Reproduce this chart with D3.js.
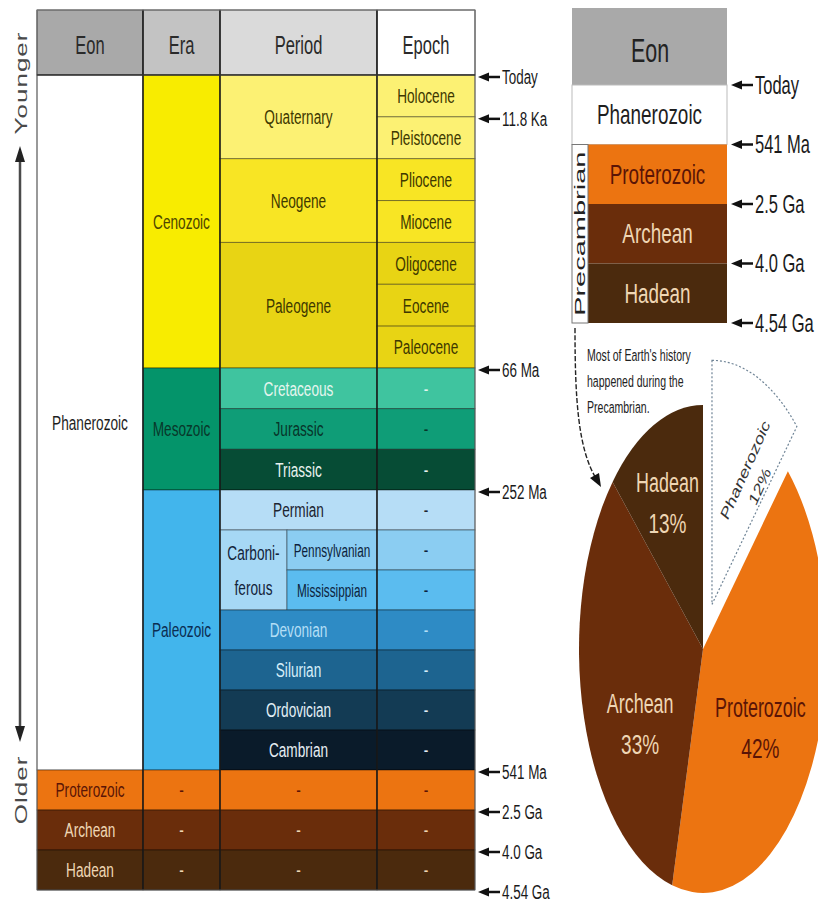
<!DOCTYPE html>
<html><head><meta charset="utf-8">
<script src="https://cdn.jsdelivr.net/npm/d3@7"></script>
<style>body{margin:0;background:#fff;} svg{display:block;font-family:"Liberation Sans",Arial,sans-serif;}</style>
</head><body><svg id="c" width="818" height="905"></svg>
<script>
// ---------------- DATA ----------------
const headers = ["Eon", "Era", "Period", "Epoch"];
const eons = [
  {name: "Phanerozoic", from: 0, to: 17},
  {name: "Proterozoic", from: 17, to: 18},
  {name: "Archean", from: 18, to: 19},
  {name: "Hadean", from: 19, to: 20}
];
const eras = [
  {name: "Cenozoic", from: 0, to: 7},
  {name: "Mesozoic", from: 7, to: 10},
  {name: "Paleozoic", from: 10, to: 17},
  {name: "-", from: 17, to: 18, key: "Proterozoic"},
  {name: "-", from: 18, to: 19, key: "Archean"},
  {name: "-", from: 19, to: 20, key: "Hadean"}
];
const periods = [
  {name: "Quaternary", from: 0, to: 2},
  {name: "Neogene", from: 2, to: 4},
  {name: "Paleogene", from: 4, to: 7},
  {name: "Cretaceous", from: 7, to: 8},
  {name: "Jurassic", from: 8, to: 9},
  {name: "Triassic", from: 9, to: 10},
  {name: "Permian", from: 10, to: 11},
  {name: "Carboniferous", lines: ["Carboni-", "ferous"], from: 11, to: 13, group: true},
  {name: "Pennsylvanian", from: 11, to: 12, sub: true},
  {name: "Mississippian", from: 12, to: 13, sub: true},
  {name: "Devonian", from: 13, to: 14},
  {name: "Silurian", from: 14, to: 15},
  {name: "Ordovician", from: 15, to: 16},
  {name: "Cambrian", from: 16, to: 17},
  {name: "-", from: 17, to: 18, key: "Proterozoic"},
  {name: "-", from: 18, to: 19, key: "Archean"},
  {name: "-", from: 19, to: 20, key: "Hadean"}
];
const epochs = ["Holocene", "Pleistocene", "Pliocene", "Miocene", "Oligocene", "Eocene", "Paleocene",
  "-", "-", "-", "-", "-", "-", "-", "-", "-", "-", "-", "-", "-"];
const boundaryLabels = ["Today", "11.8 Ka", "66 Ma", "252 Ma", "541 Ma", "2.5 Ga", "4.0 Ga", "4.54 Ga"];
const boundaryRows = [0, 1, 7, 10, 17, 18, 19, 20];
const axisLabels = ["Younger", "Older"];

const summaryHeader = "Eon";
const summaryEons = ["Phanerozoic", "Proterozoic", "Archean", "Hadean"];
const summaryBoundaries = ["Today", "541 Ma", "2.5 Ga", "4.0 Ga", "4.54 Ga"];
const precambrianLabel = "Precambrian";

const pieNames = ["Phanerozoic", "Proterozoic", "Archean", "Hadean"];
const pieShares = [12, 42, 33, 13];
const noteLines = ["Most of Earth's history", "happened during the", "Precambrian."];

// ---------------- STYLES ----------------
const fillOf = {
  Phanerozoic: "#ffffff", Proterozoic: "#ec7411", Archean: "#6a2d0b", Hadean: "#4b2a0d",
  Cenozoic: "#f8ec00", Mesozoic: "#04946a", Paleozoic: "#42b5ec",
  Quaternary: "#fcf173", Neogene: "#f8e524", Paleogene: "#e8d414",
  Cretaceous: "#3fc49f", Jurassic: "#0f9d77", Triassic: "#064c35",
  Permian: "#b6ddf6", Carboniferous: "#a6d8f5", Pennsylvanian: "#8bcdf2", Mississippian: "#5bbcef",
  Devonian: "#2e8bc5", Silurian: "#1d6490", Ordovician: "#133b54", Cambrian: "#0a1b2a"
};
const textOf = {
  Phanerozoic: "#1e1e1e", Proterozoic: "#5a1406", Archean: "#efd6b4", Hadean: "#efd6b4",
  Cenozoic: "#4d4500", Mesozoic: "#08382a", Paleozoic: "#0b2d52",
  Quaternary: "#3e3800", Neogene: "#3e3800", Paleogene: "#3e3800",
  Cretaceous: "#e4f5ee", Jurassic: "#07352a", Triassic: "#e8f2ee",
  Permian: "#1c2430", Carboniferous: "#14243a", Pennsylvanian: "#0d1f3c", Mississippian: "#0d1f3c",
  Devonian: "#b4def5", Silurian: "#d6eef9", Ordovician: "#e2eff6", Cambrian: "#e6eef3"
};
const headerFill = ["#a9a9a9", "#c3c3c3", "#dadada", "#ffffff"];
const colEdges = [37, 143, 220, 377, 475];
const carbSplit = 287;
const FONT = 21, SX = 0.65;

// ---------------- DRAW ----------------
const svg = d3.select("#c");
const y = d3.scaleLinear().domain([0, 7, 10, 17, 20]).range([75, 368, 490, 770, 890]);

function txt(g, x, yy, s, size, sx, fill, anchor = "middle", extra = "") {
  return g.append("text")
    .attr("transform", `translate(${x},${yy}) scale(${sx},1)${extra}`)
    .attr("text-anchor", anchor).attr("dy", "0.35em")
    .attr("font-size", size).attr("fill", fill).text(s);
}

const T = svg.append("g");
// header
headers.forEach((h, i) => {
  T.append("rect").attr("x", colEdges[i]).attr("y", 10).attr("width", colEdges[i + 1] - colEdges[i])
    .attr("height", 65).attr("fill", headerFill[i]).attr("stroke", "#555").attr("stroke-width", 1);
  txt(T, (colEdges[i] + colEdges[i + 1]) / 2, 45, h, 25, 0.66, "#2a2a2a");
});

function cell(x0, x1, r0, r1, fill) {
  T.append("rect").attr("x", x0).attr("y", y(r0)).attr("width", x1 - x0).attr("height", y(r1) - y(r0))
    .attr("fill", fill).attr("stroke", "rgba(0,0,0,0.4)").attr("stroke-width", 1);
}
// eons
eons.forEach(e => {
  cell(colEdges[0], colEdges[1], e.from, e.to, fillOf[e.name]);
  txt(T, (colEdges[0] + colEdges[1]) / 2, (y(e.from) + y(e.to)) / 2, e.name, FONT, SX, textOf[e.name]);
});
// eras
eras.forEach(e => {
  const k = e.key || e.name;
  cell(colEdges[1], colEdges[2], e.from, e.to, fillOf[k]);
  txt(T, (colEdges[1] + colEdges[2]) / 2, (y(e.from) + y(e.to)) / 2, e.name, FONT, SX, textOf[k]);
});
// periods
periods.forEach(p => {
  const k = p.key || p.name;
  let x0 = colEdges[2], x1 = colEdges[3];
  if (p.group) x1 = carbSplit;
  if (p.sub) x0 = carbSplit;
  cell(x0, x1, p.from, p.to, fillOf[k]);
  const cy = (y(p.from) + y(p.to)) / 2, cx = (x0 + x1) / 2;
  if (p.lines) {
    p.lines.forEach((l, j) => txt(T, cx, cy + (j - 0.5) * 35, l, FONT, SX, textOf[k]));
  } else {
    txt(T, cx, cy, p.name, p.sub ? 19 : FONT, p.sub ? 0.62 : SX, textOf[k]);
  }
});
// epochs (colour follows the finest period at that row)
epochs.forEach((ep, i) => {
  const per = periods.filter(p => !p.group && p.from <= i && p.to > i).pop();
  const k = per.key || per.name;
  cell(colEdges[3], colEdges[4], i, i + 1, fillOf[k]);
  txt(T, (colEdges[3] + colEdges[4]) / 2, (y(i) + y(i + 1)) / 2, ep, FONT, SX, textOf[k]);
});
// column dividers and frame
colEdges.forEach((x, i) => {
  T.append("line").attr("x1", x).attr("x2", x).attr("y1", 10).attr("y2", 890)
    .attr("stroke", i === 0 || i === 4 ? "#666" : "#1a1a1a").attr("stroke-width", i === 0 || i === 4 ? 1 : 1.5);
});
T.append("line").attr("x1", 37).attr("x2", 475).attr("y1", 10).attr("y2", 10).attr("stroke", "#777");
T.append("line").attr("x1", 37).attr("x2", 475).attr("y1", 75).attr("y2", 75).attr("stroke", "#333").attr("stroke-width", 1.5);
T.append("line").attr("x1", 37).attr("x2", 475).attr("y1", 890).attr("y2", 890).attr("stroke", "#555");

// boundary arrows
function leftArrow(g, x, yy, label, size, sx) {
  g.append("path").attr("d", `M${x},${yy} L${x + 11},${yy - 4.5} L${x + 11},${yy + 4.5} Z`).attr("fill", "#111");
  g.append("line").attr("x1", x + 9).attr("x2", x + 22).attr("y1", yy).attr("y2", yy)
    .attr("stroke", "#111").attr("stroke-width", 2.5);
  txt(g, x + 24, yy, label, size, sx, "#1a1a1a", "start");
}
boundaryLabels.forEach((b, i) => leftArrow(T, 478, y(boundaryRows[i]) + 2, b, 21, 0.64));

// Younger / Older axis
const A = svg.append("g");
A.append("line").attr("x1", 20).attr("x2", 20).attr("y1", 152).attr("y2", 736).attr("stroke", "#4a4a4a").attr("stroke-width", 2.5);
A.append("path").attr("d", "M20,146 L15,162 L25,162 Z").attr("fill", "#222");
A.append("path").attr("d", "M20,742 L15,726 L25,726 Z").attr("fill", "#222");
A.append("text").attr("transform", "translate(21,83) rotate(-90) scale(1,0.62)")
  .attr("text-anchor", "middle").attr("dy", "0.35em").attr("font-size", 26).attr("fill", "#4a4a4a")
  .attr("letter-spacing", 1).text(axisLabels[0]);
A.append("text").attr("transform", "translate(21,790) rotate(-90) scale(1,0.62)")
  .attr("text-anchor", "middle").attr("dy", "0.35em").attr("font-size", 26).attr("fill", "#4a4a4a")
  .attr("letter-spacing", 1).text(axisLabels[1]);

// ---------------- RIGHT SUMMARY TABLE ----------------
const R = svg.append("g");
const ry = d3.scaleLinear().domain([0, 4]).range([85, 323]);
R.append("rect").attr("x", 572).attr("y", 8).attr("width", 155).attr("height", 77).attr("fill", "#a9a9a9");
txt(R, 650, 50, summaryHeader, 34, 0.63, "#222");
summaryEons.forEach((e, i) => {
  const x0 = i === 0 ? 572 : 588;
  R.append("rect").attr("x", x0).attr("y", ry(i)).attr("width", 727 - x0).attr("height", ry(i + 1) - ry(i))
    .attr("fill", fillOf[e]).attr("stroke", i === 0 ? "#bbb" : "none");
  txt(R, (x0 + 727) / 2, (ry(i) + ry(i + 1)) / 2, e, 27, 0.7, textOf[e]);
});
R.append("rect").attr("x", 572).attr("y", ry(1)).attr("width", 16).attr("height", ry(4) - ry(1))
  .attr("fill", "#fff").attr("stroke", "#777").attr("stroke-width", 1);
R.append("text").attr("transform", `translate(580,${(ry(1) + ry(4)) / 2}) rotate(-90) scale(1,0.5)`)
  .attr("text-anchor", "middle").attr("dy", "0.35em").attr("font-size", 29).attr("fill", "#222")
  .text(precambrianLabel);
summaryBoundaries.forEach((b, i) => leftArrow(R, 731, ry(i), b, 25, 0.66));

// ---------------- PIE ----------------
const P = svg.append("g");
const cx = 703, cy = 649, RAD = 244, squash = 124 / 244;
const pie = d3.pie().sort(null).value(d => d)(pieShares);
const arc = d3.arc().innerRadius(0).outerRadius(RAD);
const pg = P.append("g").attr("transform", `translate(${cx},${cy}) scale(${squash},1)`);
const explode = 48;
pie.forEach((s, i) => {
  const name = pieNames[i];
  if (name === "Phanerozoic") {
    const m = (s.startAngle + s.endAngle) / 2;
    pg.append("path").attr("d", arc(s))
      .attr("transform", `translate(${explode * Math.sin(m)},${-explode * Math.cos(m)})`)
      .attr("fill", "#fff").attr("stroke", "#6f8496").attr("stroke-width", 1.2)
      .attr("stroke-dasharray", "2,2").attr("vector-effect", "non-scaling-stroke");
  } else {
    pg.append("path").attr("d", arc(s)).attr("fill", fillOf[name]);
  }
});
// labels
const labelArc = d3.arc().innerRadius(RAD * 0.62).outerRadius(RAD * 0.62);
const nudge = {Proterozoic: [-10, 5], Archean: [11, 32], Hadean: [-5, -8]};
pie.forEach((s, i) => {
  const name = pieNames[i];
  if (name === "Phanerozoic") return;
  const c = labelArc.centroid(s);
  const lx = cx + c[0] * squash + nudge[name][0], ly = cy + c[1] + nudge[name][1];
  txt(P, lx, ly - 20, name, 28, 0.64, textOf[name]);
  txt(P, lx, ly + 21, pieShares[i] + "%", 28, 0.68, textOf[name]);
});
// exploded Phanerozoic label
const ph = P.append("g").attr("transform", "translate(745,470) rotate(-66)");
ph.append("text").attr("transform", "scale(0.95,0.7)").attr("text-anchor", "middle").attr("dy", "0.35em")
  .attr("font-size", 20).attr("font-style", "italic").attr("fill", "#333").text(pieNames[0]);
ph.append("text").attr("transform", "translate(-9,20) scale(0.95,0.7)").attr("text-anchor", "middle").attr("dy", "0.35em")
  .attr("font-size", 20).attr("font-style", "italic").attr("fill", "#333").text(pieShares[0] + "%");

// note + curved arrow
noteLines.forEach((l, i) => txt(P, 587, 355 + i * 26, l, 17, 0.62, "#222", "start"));
P.append("path").attr("d", "M575,328 C575,400 578,450 597,480").attr("fill", "none")
  .attr("stroke", "#222").attr("stroke-width", 1.4).attr("stroke-dasharray", "5,2");
P.append("path").attr("d", "M601,487 L590,478 L599,473 Z").attr("fill", "#111");
</script></body></html>
